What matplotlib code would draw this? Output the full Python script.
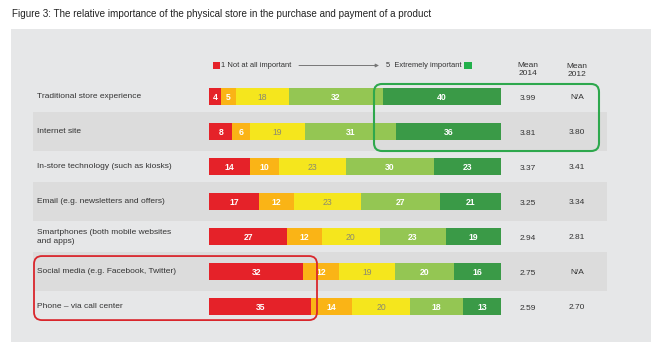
import matplotlib
matplotlib.use("Agg")
import matplotlib.pyplot as plt
import numpy as np
from matplotlib.patches import Rectangle, FancyBboxPatch
from matplotlib.transforms import blended_transform_factory

plt.rcParams['font.family'] = ['Liberation Sans', 'DejaVu Sans']

# ---------------- data ----------------
title = "Figure 3: The relative importance of the physical store in the purchase and payment of a product"
categories = [
    "Traditional store experience",
    "Internet site",
    "In-store technology (such as kiosks)",
    "Email (e.g. newsletters and offers)",
    "Smartphones (both mobile websites\nand apps)",
    "Social media (e.g. Facebook, Twitter)",
    "Phone \u2013 via call center",
]
score1 = [4, 8, 14, 17, 27, 32, 35]
score2 = [5, 6, 10, 12, 12, 12, 14]
score3 = [18, 19, 23, 23, 20, 19, 20]
score4 = [32, 31, 30, 27, 23, 20, 18]
score5 = [40, 36, 23, 21, 19, 16, 13]
mean_2014 = ["3.99", "3.81", "3.37", "3.25", "2.94", "2.75", "2.59"]
mean_2012 = ["N/A", "3.80", "3.41", "3.34", "2.81", "N/A", "2.70"]
legend_low = "1 Not at all important"
legend_high = "5  Extremely important"

colors = ["#e52229", "#fab416", "#f5e61d", "#94c653", "#3a9a47"]
label_colors = ["white", "white", "#8a8a70", "white", "white"]

W, H = 654, 344
fig = plt.figure(figsize=(W / 100, H / 100), dpi=100)
fig.patch.set_facecolor("white")

# background axes in pixel coordinates
bg = fig.add_axes([0, 0, 1, 1])
bg.set_xlim(0, W)
bg.set_ylim(H, 0)
bg.axis("off")
bg.add_patch(Rectangle((11, 29), 640, 313, facecolor="#e6e7e8", edgecolor="none"))
bg.text(12, 14, title, fontsize=7.1, color="#222222", va="center", ha="left")

# legend
bg.add_patch(Rectangle((213, 62), 7, 7, facecolor=colors[0], edgecolor="none"))
bg.text(221, 65.5, legend_low, fontsize=5.4, color="#333333", va="center", ha="left")
bg.annotate("", xy=(379, 65.5), xytext=(299, 65.5),
            arrowprops=dict(arrowstyle="-|>", color="#777777", lw=0.7,
                            mutation_scale=5, shrinkA=0, shrinkB=0))
bg.text(386, 65.5, legend_high, fontsize=5.4, color="#333333", va="center", ha="left")
bg.add_patch(Rectangle((464, 62), 8, 7, facecolor="#22b04b", edgecolor="none"))
bg.text(528, 69.5, "Mean\n2014", fontsize=6, color="#333333", va="center", ha="center",
        linespacing=1.2)
bg.text(577, 70, "Mean\n2012", fontsize=6, color="#333333", va="center", ha="center",
        linespacing=1.2)

# bar axes: x 0..100 maps to pixel 209..501; row i centred at pixel 96.8 + 35 i
n = len(categories)
top_px, step = 96.8, 35.0
y_top = top_px - step / 2
y_bot = top_px + step * (n - 1) + step / 2
ax = fig.add_axes([209 / W, (H - y_bot) / H, 292 / W, (y_bot - y_top) / H])
ax.set_xlim(0, 100)
ax.set_ylim(n - 0.5, -0.5)
ax.axis("off")
ax.patch.set_alpha(0)

trans = blended_transform_factory(bg.transData, ax.transData)

# alternating row bands
for i in range(n):
    if i % 2 == 1:
        ax.add_patch(Rectangle((33, i - 0.557), 574, 1.114, transform=trans,
                               facecolor="#dcdcdc", edgecolor="none", clip_on=False, zorder=0.5))

series = np.array([score1, score2, score3, score4, score5], dtype=float)
totals = series.sum(axis=0)
norm = series / totals * 100
y = np.arange(n)
left = np.zeros(n)
for k in range(5):
    ax.barh(y, norm[k], left=left, height=0.49, color=colors[k], edgecolor="none", zorder=2)
    for i in range(n):
        ax.text(left[i] + norm[k][i] / 2, i + 0.03, str(int(series[k][i])),
                fontsize=6.2, color=label_colors[k],
                fontweight="bold" if label_colors[k] == "white" else "normal",
                ha="center", va="center", zorder=3)
    left = left + norm[k]

# category labels and means
for i, cat in enumerate(categories):
    ax.text(37, i, cat, transform=trans, fontsize=6, color="#333333",
            ha="left", va="center", linespacing=1.3, zorder=3)
    ax.text(528, i + 0.04, mean_2014[i], transform=trans, fontsize=6, color="#333333",
            ha="center", va="center", zorder=3)
    ax.text(577, i + 0.02, mean_2012[i], transform=trans, fontsize=6, color="#333333",
            ha="center", va="center", zorder=3)

# highlight boxes
ax.add_patch(FancyBboxPatch((374, -0.366), 225, 1.915, transform=trans,
                            boxstyle="round,pad=0,rounding_size=8",
                            mutation_aspect=1 / step,
                            facecolor="none", edgecolor="#2ea84d", lw=1.5,
                            clip_on=False, zorder=4))
ax.add_patch(FancyBboxPatch((34, 4.55), 283, 1.83, transform=trans,
                            boxstyle="round,pad=0,rounding_size=8",
                            mutation_aspect=1 / step,
                            facecolor="none", edgecolor="#d9262c", lw=1.3,
                            clip_on=False, zorder=4))

fig.savefig("out.png", dpi=100)
